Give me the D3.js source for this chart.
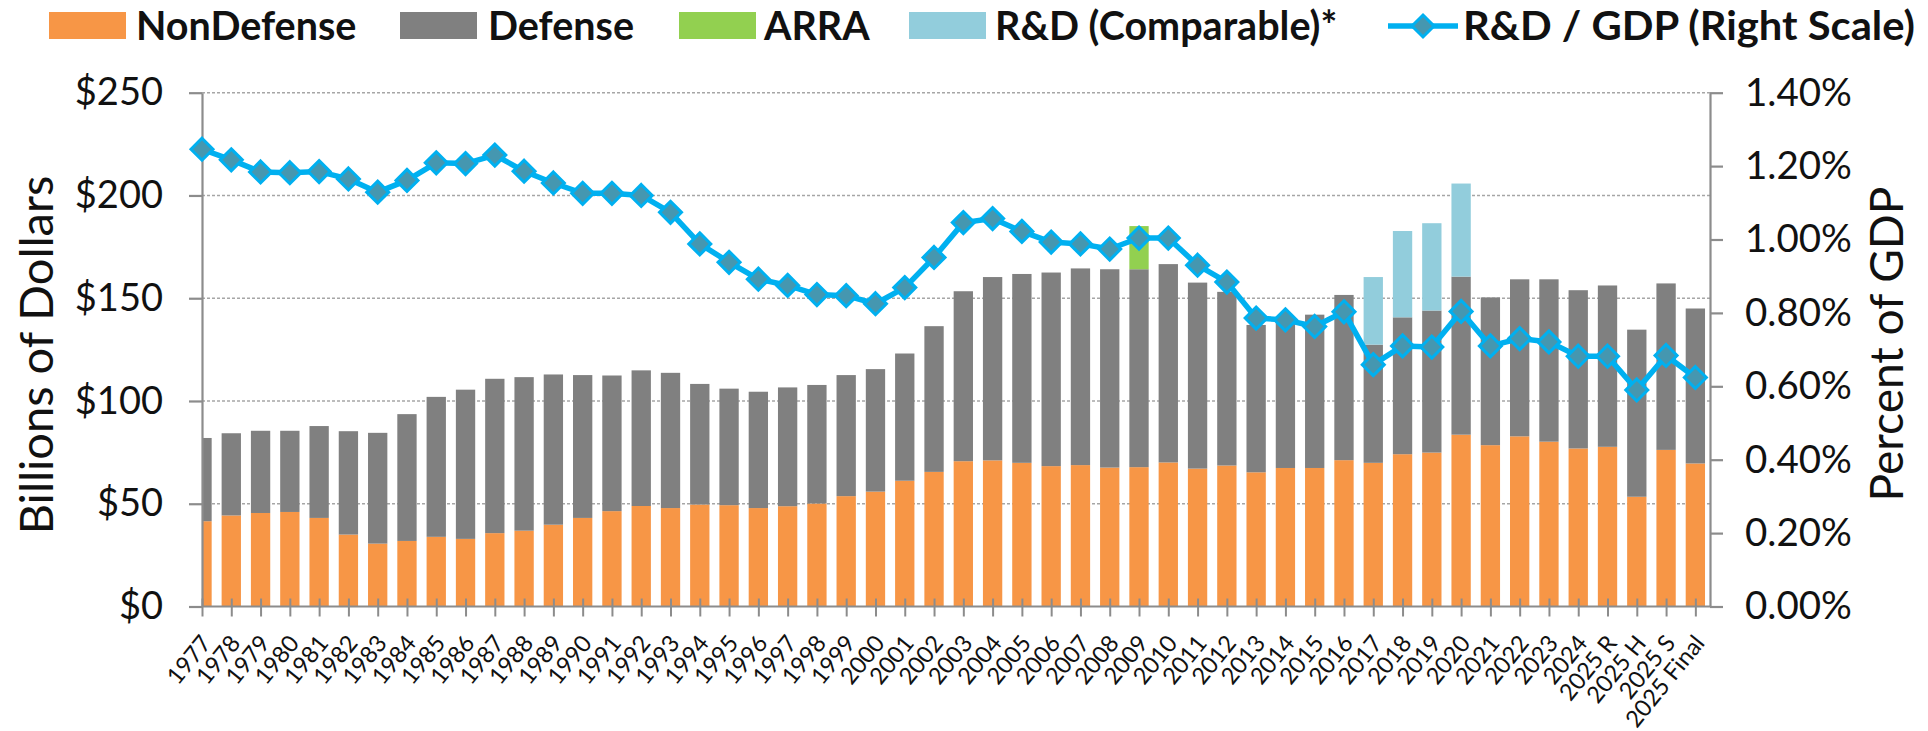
<!DOCTYPE html>
<html>
<head>
<meta charset="utf-8">
<script src="https://cdn.jsdelivr.net/npm/d3@7"></script>
<style>
  html, body { margin: 0; padding: 0; background: #ffffff; }
  svg { display: block; }
  text { font-family: Lato, "Open Sans", sans-serif; fill: #111; }
</style>
</head>
<body>
<svg id="chart" width="1928" height="731"></svg>
<script>
// ---------- DATA ----------
const categories = ["1977","1978","1979","1980","1981","1982","1983","1984","1985","1986",
  "1987","1988","1989","1990","1991","1992","1993","1994","1995","1996",
  "1997","1998","1999","2000","2001","2002","2003","2004","2005","2006",
  "2007","2008","2009","2010","2011","2012","2013","2014","2015","2016",
  "2017","2018","2019","2020","2021","2022","2023","2024",
  "2025 R","2025 H","2025 S","2025 Final"];

const nonDefense = [41.5,44.3,45.5,46.0,43.1,35.0,30.6,31.9,33.9,32.9,
  35.7,36.9,39.8,43.1,46.4,48.9,47.9,49.6,49.3,47.9,
  48.8,50.1,53.7,55.9,61.2,65.5,70.7,71.1,69.9,68.3,
  68.8,67.6,67.8,70.1,67.1,68.6,65.3,67.4,67.4,71.2,
  69.9,74.1,74.9,83.6,78.5,82.8,80.2,76.9,
  77.7,53.4,76.2,69.6];

const defense = [40.5,40.0,40.0,39.5,44.7,50.3,53.9,61.7,68.1,72.6,
  75.1,74.7,73.1,69.5,66.0,66.0,65.8,58.7,56.7,56.6,
  57.8,57.7,58.9,59.6,61.9,70.9,82.7,89.2,91.9,94.2,
  95.7,96.5,96.3,96.5,90.5,84.5,71.7,71.6,74.6,80.4,
  57.5,66.6,69.1,76.9,71.9,76.4,79.0,77.0,
  78.5,81.3,81.0,75.4];

const arra = [0,0,0,0,0,0,0,0,0,0, 0,0,0,0,0,0,0,0,0,0,
  0,0,0,0,0,0,0,0,0,0, 0,0,21.0,0,0,0,0,0,0,0,
  0,0,0,0,0,0,0,0, 0,0,0,0];

const comparable = [0,0,0,0,0,0,0,0,0,0, 0,0,0,0,0,0,0,0,0,0,
  0,0,0,0,0,0,0,0,0,0, 0,0,0,0,0,0,0,0,0,0,
  32.9,42.0,42.5,45.3,0,0,0,0, 0,0,0,0];

const rdGdp = [1.246,1.217,1.184,1.182,1.185,1.165,1.129,1.161,1.209,1.207,
  1.230,1.186,1.154,1.126,1.126,1.120,1.074,0.988,0.938,0.892,
  0.875,0.850,0.847,0.825,0.869,0.951,1.046,1.057,1.022,0.993,
  0.988,0.974,1.004,1.004,0.930,0.884,0.786,0.781,0.763,0.803,
  0.659,0.710,0.707,0.804,0.710,0.730,0.721,0.682,
  0.682,0.590,0.684,0.624];

const leftTicks = [0,50,100,150,200,250];
const rightTicks = [0,0.2,0.4,0.6,0.8,1.0,1.2,1.4];

const seriesKeys = ["NonDefense","Defense","ARRA","R&D (Comparable)*"];
const seriesColors = ["#f79646","#808080","#92d050","#92cddc"];
const lineName = "R&D / GDP (Right Scale)";

// ---------- LAYOUT ----------
const L = 202, R = 1710, yTop = 92.7, yBot = 606.5;
const nSteps = categories.length - 0.5;
const step = (R - L) / nSteps;
const barW = step * 0.66;

const svg = d3.select("#chart");

const x = d3.scalePoint().domain(categories).range([L, L + step * (categories.length - 1)]);
const y = d3.scaleLinear().domain([0, 250]).range([yBot, yTop]);
const y2 = d3.scaleLinear().domain([0, 1.4]).range([yBot, yTop]);

const rows = categories.map((c, i) => ({
  cat: c,
  "NonDefense": nonDefense[i],
  "Defense": defense[i],
  "ARRA": arra[i],
  "R&D (Comparable)*": comparable[i]
}));
const stacked = d3.stack().keys(seriesKeys)(rows);

svg.append("defs").append("clipPath").attr("id", "plotClip")
  .append("rect").attr("x", L).attr("y", 0).attr("width", R - L).attr("height", yBot);

// gridlines
svg.append("g").selectAll("line").data(leftTicks.filter(d => d > 0)).join("line")
  .attr("x1", L).attr("x2", R)
  .attr("y1", d => y(d)).attr("y2", d => y(d))
  .attr("stroke", "#a6a6a6").attr("stroke-width", 1.4)
  .attr("stroke-dasharray", "3,2");

// bars
const barG = svg.append("g").attr("clip-path", "url(#plotClip)");
stacked.forEach((s, k) => {
  barG.append("g").attr("fill", seriesColors[k])
    .selectAll("rect").data(s).join("rect")
    .attr("x", d => x(d.data.cat) - barW / 2)
    .attr("width", barW)
    .attr("y", d => y(d[1]))
    .attr("height", d => Math.max(0, y(d[0]) - y(d[1])));
});

// left axis
const axL = svg.append("g").attr("transform", `translate(${L},0)`)
  .call(d3.axisLeft(y).tickValues(leftTicks).tickSizeInner(13).tickSizeOuter(0).tickPadding(26)
    .tickFormat(d => "$" + d));
axL.select(".domain").attr("stroke", "#8c8c8c").attr("stroke-width", 2.2);
axL.selectAll(".tick line").attr("stroke", "#8c8c8c").attr("stroke-width", 2.2);
axL.selectAll(".tick text").style("font-size", "38px").style("font-family", "Lato, sans-serif").attr("fill", "#111");

// right axis
const axR = svg.append("g").attr("transform", `translate(${R},0)`)
  .call(d3.axisRight(y2).tickValues(rightTicks).tickSizeInner(13).tickSizeOuter(0).tickPadding(22)
    .tickFormat(d => d3.format(".2f")(d) + "%"));
axR.select(".domain").attr("stroke", "#8c8c8c").attr("stroke-width", 2.2);
axR.selectAll(".tick line").attr("stroke", "#8c8c8c").attr("stroke-width", 2.2);
axR.selectAll(".tick text").style("font-size", "38.5px").style("font-family", "Lato, sans-serif").attr("fill", "#111");

// bottom axis
svg.append("line").attr("x1", L).attr("x2", R).attr("y1", yBot).attr("y2", yBot)
  .attr("stroke", "#8c8c8c").attr("stroke-width", 2.2);
const axB = svg.append("g").attr("transform", `translate(0,${yBot})`)
  .call(d3.axisBottom(x).tickSizeInner(10).tickSizeOuter(0).tickFormat(""));
axB.select(".domain").remove();
axB.selectAll(".tick line").attr("y1", -8).attr("y2", 10).attr("stroke", "#8c8c8c").attr("stroke-width", 2);

// x labels
svg.append("g").selectAll("text").data(categories).join("text")
  .attr("transform", d => `translate(${x(d) + 4},${yBot + 32}) rotate(-51)`)
  .attr("text-anchor", "end")
  .attr("dy", "0.35em")
  .style("font-size", "23.5px")
  .text(d => d);

// line
const line = d3.line().x((d, i) => x(categories[i])).y(d => y2(d));
svg.append("path").datum(rdGdp).attr("d", line)
  .attr("fill", "none").attr("stroke", "#00b0f0").attr("stroke-width", 5.5)
  .attr("stroke-linejoin", "round");
const diamond = "M0,-11L11,0L0,11L-11,0Z";
svg.append("g").selectAll("path").data(rdGdp).join("path")
  .attr("d", diamond)
  .attr("transform", (d, i) => `translate(${x(categories[i])},${y2(d)})`)
  .attr("fill", "#4597b0").attr("stroke", "#00b0f0").attr("stroke-width", 3);

// axis titles
svg.append("text").attr("transform", "translate(37,355) rotate(-90)")
  .attr("text-anchor", "middle").attr("dy", "0.35em")
  .style("font-size", "47px").text("Billions of Dollars");
svg.append("text").attr("transform", "translate(1887,344) rotate(-90)")
  .attr("text-anchor", "middle").attr("dy", "0.35em")
  .style("font-size", "46px").text("Percent of GDP");

// legend
const legY = 26;
const legItems = [
  {name: seriesKeys[0], color: seriesColors[0], sx: 49, tx: 136},
  {name: seriesKeys[1], color: seriesColors[1], sx: 400, tx: 488},
  {name: seriesKeys[2], color: seriesColors[2], sx: 679, tx: 764},
  {name: seriesKeys[3], color: seriesColors[3], sx: 909, tx: 995}
];
const leg = svg.append("g");
legItems.forEach(it => {
  leg.append("rect").attr("x", it.sx).attr("y", legY - 14).attr("width", 77).attr("height", 27).attr("fill", it.color);
  leg.append("text").attr("x", it.tx).attr("y", legY).attr("dy", "0.36em")
    .style("font-size", "39.5px").style("font-weight", "bold").text(it.name);
});
leg.append("line").attr("x1", 1388).attr("x2", 1458).attr("y1", legY).attr("y2", legY)
  .attr("stroke", "#00b0f0").attr("stroke-width", 5.5);
leg.append("path").attr("d", diamond).attr("transform", `translate(1423,${legY})`)
  .attr("fill", "#4597b0").attr("stroke", "#00b0f0").attr("stroke-width", 3);
leg.append("text").attr("x", 1463).attr("y", legY).attr("dy", "0.36em")
  .attr("textLength", 452).attr("lengthAdjust", "spacingAndGlyphs")
  .style("font-size", "39.5px").style("font-weight", "bold").text(lineName);
</script>
</body>
</html>
